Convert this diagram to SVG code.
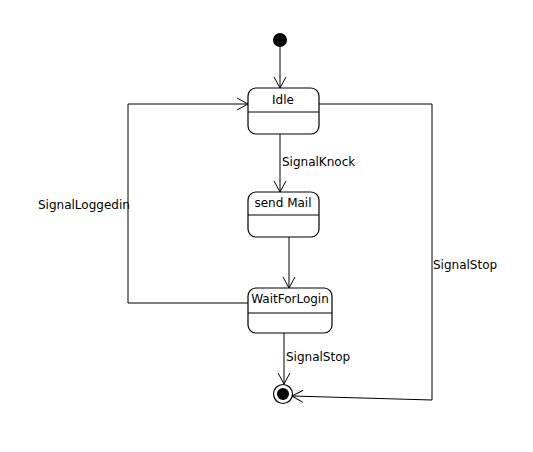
<svg xmlns="http://www.w3.org/2000/svg" width="533" height="452" viewBox="0 0 533 452">
<style>
.st{fill:#fff;stroke:#000;stroke-width:1.2}
.dv{stroke:#000;stroke-width:1}
.ln{fill:none;stroke:#000;stroke-width:1}
text{font-family:"DejaVu Sans",sans-serif;font-size:12px;fill:#000}
.c{text-anchor:middle}
</style>
<defs>
<marker id="arr" markerWidth="14" markerHeight="14" refX="12" refY="7" orient="auto" markerUnits="userSpaceOnUse">
<path d="M1,1 L12,7 L1,13" fill="none" stroke="#000" stroke-width="1"/>
</marker>
</defs>
<rect width="533" height="452" fill="#fff"/>
<g id="connectors">
<line class="ln" x1="280" y1="47" x2="280" y2="88" marker-end="url(#arr)"/>
<line class="ln" x1="280" y1="134" x2="280" y2="192" marker-end="url(#arr)"/>
<line class="ln" x1="289" y1="237" x2="289" y2="288" marker-end="url(#arr)"/>
<polyline class="ln" points="248,303 128,303 128,104 248,104" marker-end="url(#arr)"/>
<polyline class="ln" points="319,104 432,104 432,400 292,396" marker-end="url(#arr)"/>
<line class="ln" x1="284" y1="333" x2="284" y2="384" marker-end="url(#arr)"/>
<text x="282" y="166">SignalKnock</text>
<text x="38" y="209">SignalLoggedin</text>
<text x="433" y="269">SignalStop</text>
<text x="286" y="361">SignalStop</text>
</g>
<g id="initial">
<circle cx="280" cy="40" r="7" fill="#000"/>
</g>
<g id="idle">
<rect class="st" x="248" y="88" width="71" height="46" rx="8"/>
<line class="dv" x1="248" y1="112" x2="319" y2="112"/>
<text class="c" x="283" y="104">Idle</text>
</g>
<g id="sendmail">
<rect class="st" x="248" y="192" width="71" height="45" rx="8"/>
<line class="dv" x1="248" y1="215" x2="319" y2="215"/>
<text class="c" x="283" y="207">send Mail</text>
</g>
<g id="waitforlogin">
<rect class="st" x="248" y="288" width="84" height="45" rx="8"/>
<line class="dv" x1="248" y1="313" x2="332" y2="313"/>
<text class="c" x="290" y="303">WaitForLogin</text>
</g>
<g id="final">
<circle cx="283" cy="394" r="9.5" fill="#fff" stroke="#000" stroke-width="1.2"/>
<circle cx="283" cy="394" r="6" fill="#000"/>
</g>
</svg>
